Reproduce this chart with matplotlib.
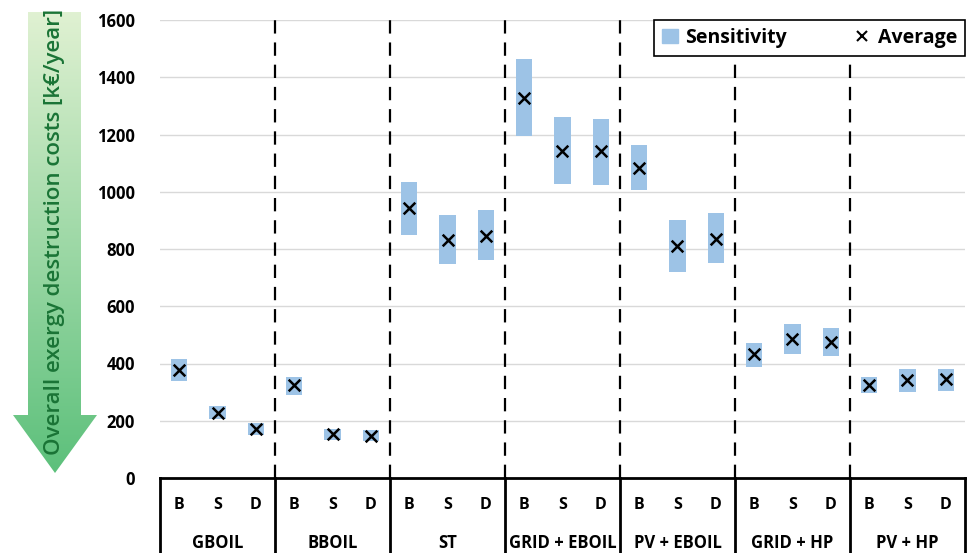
import numpy as np
import matplotlib
matplotlib.use("Agg")
import matplotlib.pyplot as plt
from matplotlib.patches import Polygon, Patch
from matplotlib.lines import Line2D
from matplotlib.colors import LinearSegmentedColormap

plt.rcParams['font.family'] = ['Open Sans', 'DejaVu Sans']

# Data
groups = ["GBOIL", "BBOIL", "ST", "GRID + EBOIL", "PV + EBOIL", "GRID + HP", "PV + HP"]
cases = ["B", "S", "D"]
low = [340, 205, 150, 290, 133, 129,
       849, 748, 762, 1195, 1027, 1024,
       1006, 720, 751, 388, 433, 426,
       297, 300, 304]
high = [415, 251, 192, 353, 171, 168,
        1034, 919, 936, 1464, 1261, 1254,
        1163, 901, 926, 472, 538, 524,
        353, 381, 381]
avg = [378, 227, 171, 325, 154, 147,
       943, 831, 845, 1328, 1142, 1142,
       1083, 810, 835, 433, 486, 475,
       325, 343, 345]

bar_color = "#9dc3e6"

fig = plt.figure(figsize=(9.69, 5.53), dpi=100)
ax = fig.add_axes([160/969, 75/553, 805/969, 458/553])

x = np.arange(len(avg))
ax.bar(x, np.array(high) - np.array(low), bottom=low, width=0.42,
       color=bar_color, zorder=2)
ax.scatter(x, avg, marker="x", s=70, color="black", linewidths=1.8, zorder=3)

ax.set_xlim(-0.5, len(avg) - 0.5)
ax.set_ylim(0, 1600)
ax.set_yticks(range(0, 1601, 200))
ax.yaxis.grid(True, color="#d9d9d9", linewidth=1.0, zorder=0)
ax.set_axisbelow(True)
ax.set_xticks([])
ax.tick_params(axis="y", length=0, pad=18, labelsize=12)
for lab in ax.get_yticklabels():
    lab.set_fontweight("bold")
for s in ["left", "right", "top"]:
    ax.spines[s].set_visible(False)
ax.spines["bottom"].set_linewidth(2)
ax.spines["bottom"].set_color("black")

# separators and table below
bounds = [2.5 + 3 * i for i in range(len(groups) - 1)]
for b in bounds:
    ax.axvline(b, color="black", linestyle=(0, (6, 4)), linewidth=1.6, zorder=1)
edges = [-0.5] + bounds + [len(avg) - 0.5]
for e in edges:
    ax.plot([e, e], [0, -0.2], transform=ax.get_xaxis_transform(),
            color="black", linewidth=2, clip_on=False)
for i in range(len(avg)):
    ax.text(i, -0.059, cases[i % 3], transform=ax.get_xaxis_transform(),
            ha="center", va="center", fontsize=11.5, fontweight="bold")
for g, name in enumerate(groups):
    ax.text(3 * g + 1, -0.142, name, transform=ax.get_xaxis_transform(),
            ha="center", va="center", fontsize=12, fontweight="bold")

# legend
handles = [Patch(color=bar_color, label="Sensitivity"),
           Line2D([], [], marker="x", color="black", linestyle="none",
                  markersize=7, markeredgewidth=1.5, label="Average")]
leg = ax.legend(handles=handles, loc="upper left",
                bbox_to_anchor=(0.614, 0.93, 0.386, 0.07), mode="expand",
                ncol=2, frameon=True, fancybox=False, edgecolor="black",
                framealpha=1, prop={"weight": "bold", "size": 14},
                handlelength=0.8, handletextpad=0.4, columnspacing=1.5,
                borderpad=0.4, borderaxespad=0)
leg.get_frame().set_linewidth(1.2)
leg.set_zorder(5)

# gradient arrow with axis title
bg = fig.add_axes([0, 0, 1, 1], zorder=-1)
bg.set_xlim(0, 969)
bg.set_ylim(553, 0)
bg.axis("off")
arrow = Polygon([[28, 12], [81, 12], [81, 415], [97, 415], [55, 473],
                 [13, 415], [28, 415]], closed=True, facecolor="none",
                edgecolor="none")
bg.add_patch(arrow)
grad = np.linspace(0, 1, 256).reshape(-1, 1)
cmap = LinearSegmentedColormap.from_list("g", ["#e0f1d2", "#5cc07b"])
im = bg.imshow(grad, cmap=cmap, extent=[10, 100, 473, 12], aspect="auto",
               origin="upper")
im.set_clip_path(arrow)
bg.text(55, 232, "Overall exergy destruction costs [k€/year]", rotation=90,
        ha="center", va="center", fontsize=16, color="#1a7436",
        fontweight="semibold")

fig.savefig("out.png", dpi=100)
